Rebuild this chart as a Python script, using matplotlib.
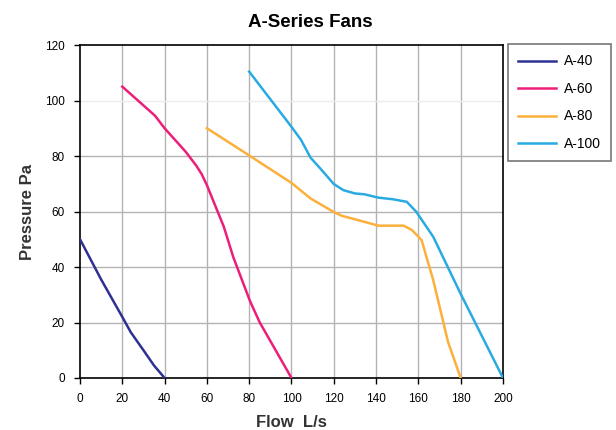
import matplotlib

matplotlib.use("Agg")
import matplotlib.pyplot as plt

plt.rcParams["font.family"] = ["Liberation Sans", "DejaVu Sans"]

# fan curves: flow (L/s) vs pressure (Pa)
a40_flow = [0, 10, 20, 24, 30, 35, 40]
a40_pres = [50, 35.5, 22, 16.5, 10, 4.5, 0]

a60_flow = [20, 35.5, 40, 50, 55, 57.5, 60, 64, 68, 72.5, 80.5, 85, 100]
a60_pres = [105, 94.5, 90, 81.5, 76.5, 73.5, 69.5, 62, 54.5, 43.5, 27.5, 20, 0]

a80_flow = [60, 80, 100, 109, 120, 124, 130, 141, 153, 157, 161.5, 167, 174, 180]
a80_pres = [90, 80.2, 70.3, 64.7, 59.8, 58.4, 57.2, 54.9, 54.9, 53.3, 49.7, 35.3, 13, 0]

a100_flow = [80, 100, 104.5, 109, 113.5, 120, 124.5, 130, 134.5, 141, 148, 154.5,
             159, 167, 180, 200]
a100_pres = [110.4, 90.5, 85.8, 79.4, 75.6, 69.9, 67.7, 66.5, 66.2, 65, 64.4, 63.5,
             59.9, 50.9, 30.3, 0]

labels = ["A-40", "A-60", "A-80", "A-100"]
colors = ["#2e3192", "#ed1e79", "#fbb03b", "#29abe2"]

fig = plt.figure(figsize=(6.16, 4.30), dpi=100)
ax = fig.add_axes([80 / 616, 1 - 378 / 430, 423 / 616, 333 / 430])

series = [(a40_flow, a40_pres), (a60_flow, a60_pres),
          (a80_flow, a80_pres), (a100_flow, a100_pres)]
for (xs, ys), lab, col in zip(series, labels, colors):
    ax.plot(xs, ys, color=col, lw=1.8, label=lab, solid_joinstyle="round", zorder=3)

ax.set_xlim(0, 200)
ax.set_ylim(0, 120)
ax.set_xticks(range(0, 201, 20))
ax.set_yticks(range(0, 121, 20))
ax.tick_params(labelsize=8.5, length=4, width=1, direction="out", pad=7)

# grid: vertical lines plus horizontal, the 100 line drawn faint as in the source
for xv in range(20, 200, 20):
    ax.axvline(xv, color="#b3b3b3", lw=1, zorder=1)
for yv in range(20, 120, 20):
    ax.axhline(yv, color="#ececec" if yv == 100 else "#b3b3b3", lw=1, zorder=1)

for sp in ax.spines.values():
    sp.set_linewidth(1.2)
    sp.set_color("black")

ax.set_xlabel("Flow  L/s", fontsize=12, fontweight="bold", color="#333333", labelpad=7)
ax.set_ylabel("Pressure Pa", fontsize=12, fontweight="bold", color="#333333", labelpad=7)
fig.suptitle("A-Series Fans", fontsize=13.5, fontweight="bold", x=0.503, y=0.968)

leg = ax.legend(loc="upper left", bbox_to_anchor=(508 / 616, 1 - 44 / 430),
                bbox_transform=fig.transFigure, fontsize=10, frameon=True,
                fancybox=False, handlelength=2.7, handletextpad=0.55,
                labelspacing=0.97, borderpad=0.75, borderaxespad=0)
leg.get_frame().set_edgecolor("#555555")
leg.get_frame().set_linewidth(1.2)

fig.savefig("out.png", dpi=100)
